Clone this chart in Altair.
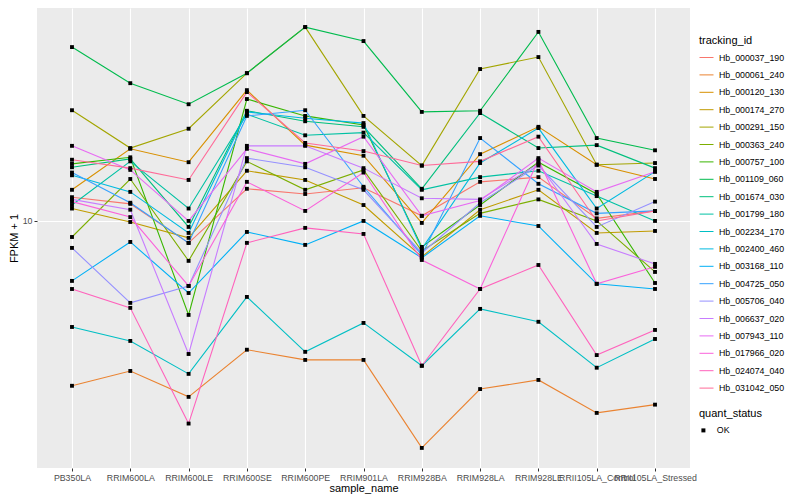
import math
import altair as alt
import pandas as pd

samples = ["PB350LA", "RRIM600LA", "RRIM600LE", "RRIM600SE", "RRIM600PE",
           "RRIM901LA", "RRIM928BA", "RRIM928LA", "RRIM928LE",
           "RRII105LA_Control", "RRII105LA_Stressed"]

ids = ["Hb_000037_190", "Hb_000061_240", "Hb_000120_130", "Hb_000174_270",
       "Hb_000291_150", "Hb_000363_240", "Hb_000757_100", "Hb_001109_060",
       "Hb_001674_030", "Hb_001799_180", "Hb_002234_170", "Hb_002400_460",
       "Hb_003168_110", "Hb_004725_050", "Hb_005706_040", "Hb_006637_020",
       "Hb_007943_110", "Hb_017966_020", "Hb_024074_040", "Hb_031042_050"]

# FPKM + 1 values, one list per gene, in the order of `samples`
v_000037_190 = [12.0, 11.4, 8.45, 12.8, 12.3, 12.9, 10.4, 13.5, 14.0, 10.2, 10.8]
v_000061_240 = [2.82, 3.16, 2.59, 3.72, 3.44, 3.44, 1.75, 2.75, 2.95, 2.29, 2.44]
v_000120_130 = [12.7, 17.4, 15.7, 27.3, 17.9, 16.5, 9.85, 16.7, 20.6, 15.4, 13.8]
v_000174_270 = [11.0, 9.92, 8.78, 14.7, 13.7, 11.3, 7.59, 10.9, 12.7, 9.12, 9.26]
v_000291_150 = [23.4, 17.5, 20.3, 31.1, 44.3, 22.4, 15.3, 32.1, 35.2, 15.4, 15.6]
v_000363_240 = [8.84, 13.8, 7.36, 15.8, 12.7, 14.8, 7.94, 10.6, 11.8, 10.0, 6.76]
v_000757_100 = [15.5, 16.3, 4.86, 25.5, 22.4, 20.9, 8.19, 11.3, 15.7, 12.3, 6.21]
v_001109_060 = [38.0, 28.8, 24.5, 31.1, 44.3, 39.8, 23.1, 23.3, 42.7, 18.9, 17.2]
v_001674_030 = [15.1, 16.1, 9.55, 23.3, 21.5, 20.6, 12.8, 22.9, 17.5, 17.9, 15.0]
v_001799_180 = [11.3, 15.8, 11.0, 22.7, 19.3, 19.7, 12.7, 14.0, 14.7, 12.1, 10.0]
v_002234_170 = [4.43, 3.98, 3.09, 5.58, 3.66, 4.57, 3.29, 5.09, 4.61, 3.24, 4.04]
v_002400_460 = [14.2, 12.5, 9.12, 23.1, 22.0, 21.2, 8.07, 15.6, 20.4, 11.0, 14.6]
v_003168_110 = [6.31, 8.51, 5.75, 9.19, 8.32, 10.0, 7.53, 10.4, 9.62, 6.17, 5.93]
v_004725_050 = [14.5, 11.5, 8.45, 22.4, 23.4, 13.0, 7.70, 18.9, 13.3, 10.6, 10.8]
v_005706_040 = [8.13, 5.33, 6.07, 16.2, 15.1, 12.7, 7.82, 11.5, 15.3, 9.55, 11.6]
v_006637_020 = [11.8, 10.9, 3.60, 17.8, 17.8, 15.0, 11.9, 11.8, 15.5, 8.38, 7.19]
v_007943_110 = [17.8, 14.8, 10.0, 17.4, 15.5, 19.1, 10.4, 11.7, 16.2, 12.5, 14.6]
v_017966_020 = [11.6, 10.3, 6.07, 13.5, 10.8, 14.5, 7.41, 5.93, 16.0, 6.17, 7.03]
v_024074_040 = [5.93, 5.13, 2.11, 8.45, 9.48, 9.05, 3.29, 5.93, 7.13, 3.57, 4.33]
v_031042_050 = [16.0, 15.0, 13.7, 26.9, 18.2, 17.1, 15.3, 15.8, 19.1, 10.0, 10.8]

series = [v_000037_190, v_000061_240, v_000120_130, v_000174_270, v_000291_150,
          v_000363_240, v_000757_100, v_001109_060, v_001674_030, v_001799_180,
          v_002234_170, v_002400_460, v_003168_110, v_004725_050, v_005706_040,
          v_006637_020, v_007943_110, v_017966_020, v_024074_040, v_031042_050]

quant_status = "OK"


def hcl_hex(h, c, l):
    """R grDevices::hcl (polar CIE-LUV, D65) -> hex."""
    hr = math.radians(h)
    L = l
    U = c * math.cos(hr)
    V = c * math.sin(hr)
    wu, wv = 0.1978398, 0.4683363
    Y = ((L + 16) / 116) ** 3 if L > 7.999592 else L / 903.3
    u = U / (13 * L) + wu
    v = V / (13 * L) + wv
    X = 9.0 * Y * u / (4 * v)
    Z = -X / 3 - 5 * Y + 3 * Y / v

    def g(t):
        t = 1.055 * t ** (1 / 2.4) - 0.055 if t > 0.00304 else 12.92 * t
        return max(0, min(255, int(round(255 * max(0.0, min(1.0, t))))))

    r = g(3.240479 * X - 1.537150 * Y - 0.498535 * Z)
    gg = g(-0.969256 * X + 1.875992 * Y + 0.041556 * Z)
    b = g(0.055648 * X - 0.204043 * Y + 1.057311 * Z)
    return "#%02X%02X%02X" % (r, gg, b)


n = len(ids)
colors = [hcl_hex(15 + i * 360 / n, 100, 65) for i in range(n)]

rows = []
for tid, vals in zip(ids, series):
    for s, val in zip(samples, vals):
        rows.append({"tracking_id": tid, "sample_name": s, "fpkm": val,
                     "quant_status": quant_status})
df = pd.DataFrame(rows)

FONT = "Liberation Sans"

x_enc = alt.X("sample_name:N", sort=samples,
              scale=alt.Scale(type="point", padding=0.6),
              axis=alt.Axis(title="sample_name", labelAngle=0, labelOverlap=False,
                            grid=True, titlePadding=1))
y_enc = alt.Y("fpkm:Q",
              scale=alt.Scale(type="log", domain=[1.5, 51.3], nice=False),
              axis=alt.Axis(title="FPKM + 1", values=[10], format="~g", grid=True))

base = alt.Chart(df)

lines = base.mark_line(strokeWidth=1.1).encode(
    x=x_enc, y=y_enc,
    color=alt.Color("tracking_id:N",
                    scale=alt.Scale(domain=ids, range=colors),
                    legend=alt.Legend(title="tracking_id", orient="none",
                                      legendX=662, legendY=27,
                                      symbolType="stroke", symbolStrokeWidth=1,
                                      symbolSize=196, rowPadding=4.4,
                                      labelOffset=5, titlePadding=4,
                                      symbolLimit=30)),
)

points = base.mark_point(filled=True, size=15, opacity=1, color="black").encode(
    x=x_enc, y=y_enc,
    shape=alt.Shape("quant_status:N",
                    scale=alt.Scale(domain=["OK"], range=["square"]),
                    legend=alt.Legend(title="quant_status", orient="none",
                                      legendX=662, legendY=400,
                                      symbolSize=16, symbolFillColor="black",
                                      symbolStrokeColor="black",
                                      labelOffset=9, titlePadding=7)),
)

chart = alt.layer(lines, points).properties(
    width=653, height=460, padding=0, background="white"
).configure_view(
    fill="#EBEBEB", strokeWidth=0
).configure_axis(
    labelFont=FONT, titleFont=FONT, labelFontSize=8.8, titleFontSize=11,
    labelColor="#4D4D4D", titleColor="black", titleFontWeight="normal",
    tickColor="#333333", tickSize=3, tickWidth=1, domain=False,
    gridColor="white", gridWidth=1.1, labelPadding=2, titlePadding=3
).configure_legend(
    labelFont=FONT, titleFont=FONT, labelFontSize=8.8, titleFontSize=11,
    labelColor="black", titleColor="black", titleFontWeight="normal"
)

chart.save("out.html", embed_options={"renderer": "svg", "actions": False})
